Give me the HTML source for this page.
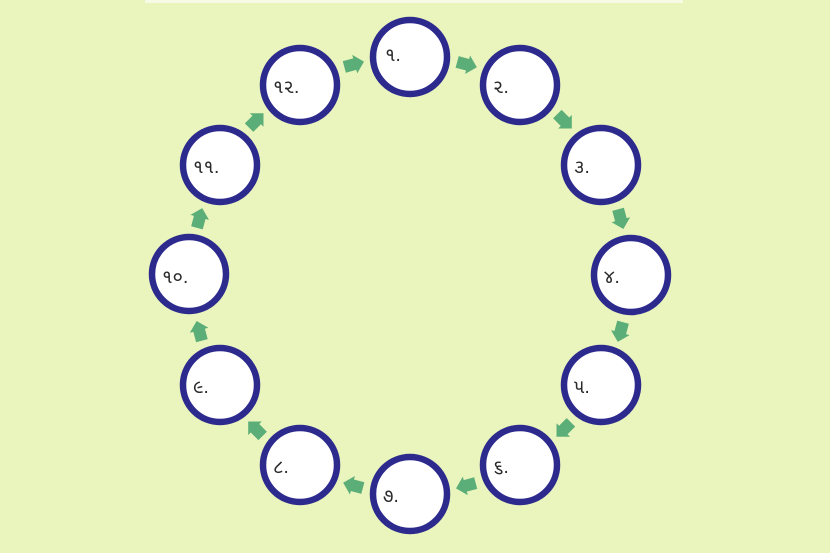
<!DOCTYPE html>
<html><head><meta charset="utf-8"><style>
html,body{margin:0;padding:0;background:#eaf4bd;}
svg{display:block}
text{font-family:"Liberation Sans","Noto Sans Gujarati","DejaVu Sans",sans-serif;font-size:19px;fill:#2a2a2a}
</style></head><body>
<svg width="830" height="553" viewBox="0 0 830 553" xmlns="http://www.w3.org/2000/svg">
<rect width="830" height="553" fill="#eaf4bd"/>
<rect x="145" y="0" width="538" height="3" fill="#f7fbe6"/>
<g fill="#fff" stroke="#2d2a8e" stroke-width="6.5">
<circle cx="410" cy="57" r="37"/>
<circle cx="520" cy="85" r="37"/>
<circle cx="601" cy="165" r="37"/>
<circle cx="631" cy="275" r="37"/>
<circle cx="601" cy="385" r="37"/>
<circle cx="520" cy="465" r="37"/>
<circle cx="410" cy="494" r="37"/>
<circle cx="300" cy="465" r="37"/>
<circle cx="220" cy="385" r="37"/>
<circle cx="189" cy="274" r="37"/>
<circle cx="220" cy="165" r="37"/>
<circle cx="300" cy="85" r="37"/>
</g>
<g fill="#5cae78">
<g transform="translate(410,275) rotate(-75) translate(218,0) rotate(90) scale(1.2)"><polygon points="-8,-5 1,-5 1,-8 9,0 1,8 1,5 -8,5"/></g>
<g transform="translate(410,275) rotate(-45) translate(218,0) rotate(90) scale(1.2)"><polygon points="-8,-5 1,-5 1,-8 9,0 1,8 1,5 -8,5"/></g>
<g transform="translate(410,275) rotate(-15) translate(218,0) rotate(90) scale(1.2)"><polygon points="-8,-5 1,-5 1,-8 9,0 1,8 1,5 -8,5"/></g>
<g transform="translate(410,275) rotate(15) translate(218,0) rotate(90) scale(1.2)"><polygon points="-8,-5 1,-5 1,-8 9,0 1,8 1,5 -8,5"/></g>
<g transform="translate(410,275) rotate(45) translate(218,0) rotate(90) scale(1.2)"><polygon points="-8,-5 1,-5 1,-8 9,0 1,8 1,5 -8,5"/></g>
<g transform="translate(410,275) rotate(75) translate(218,0) rotate(90) scale(1.2)"><polygon points="-8,-5 1,-5 1,-8 9,0 1,8 1,5 -8,5"/></g>
<g transform="translate(410,275) rotate(105) translate(218,0) rotate(90) scale(1.2)"><polygon points="-8,-5 1,-5 1,-8 9,0 1,8 1,5 -8,5"/></g>
<g transform="translate(410,275) rotate(135) translate(218,0) rotate(90) scale(1.2)"><polygon points="-8,-5 1,-5 1,-8 9,0 1,8 1,5 -8,5"/></g>
<g transform="translate(410,275) rotate(165) translate(218,0) rotate(90) scale(1.2)"><polygon points="-8,-5 1,-5 1,-8 9,0 1,8 1,5 -8,5"/></g>
<g transform="translate(410,275) rotate(195) translate(218,0) rotate(90) scale(1.2)"><polygon points="-8,-5 1,-5 1,-8 9,0 1,8 1,5 -8,5"/></g>
<g transform="translate(410,275) rotate(225) translate(218,0) rotate(90) scale(1.2)"><polygon points="-8,-5 1,-5 1,-8 9,0 1,8 1,5 -8,5"/></g>
<g transform="translate(410,275) rotate(255) translate(218,0) rotate(90) scale(1.2)"><polygon points="-8,-5 1,-5 1,-8 9,0 1,8 1,5 -8,5"/></g>
</g>
<text x="385" y="61">૧.</text>
<text x="493" y="93">૨.</text>
<text x="574" y="173">૩.</text>
<text x="604" y="283">૪.</text>
<text x="574" y="393">૫.</text>
<text x="493" y="473">૬.</text>
<text x="383" y="502">૭.</text>
<text x="273" y="473">૮.</text>
<text x="193" y="393">૯.</text>
<text x="162" y="283">૧૦.</text>
<text x="193" y="173">૧૧.</text>
<text x="273" y="93">૧૨.</text>
</svg>
</body></html>
